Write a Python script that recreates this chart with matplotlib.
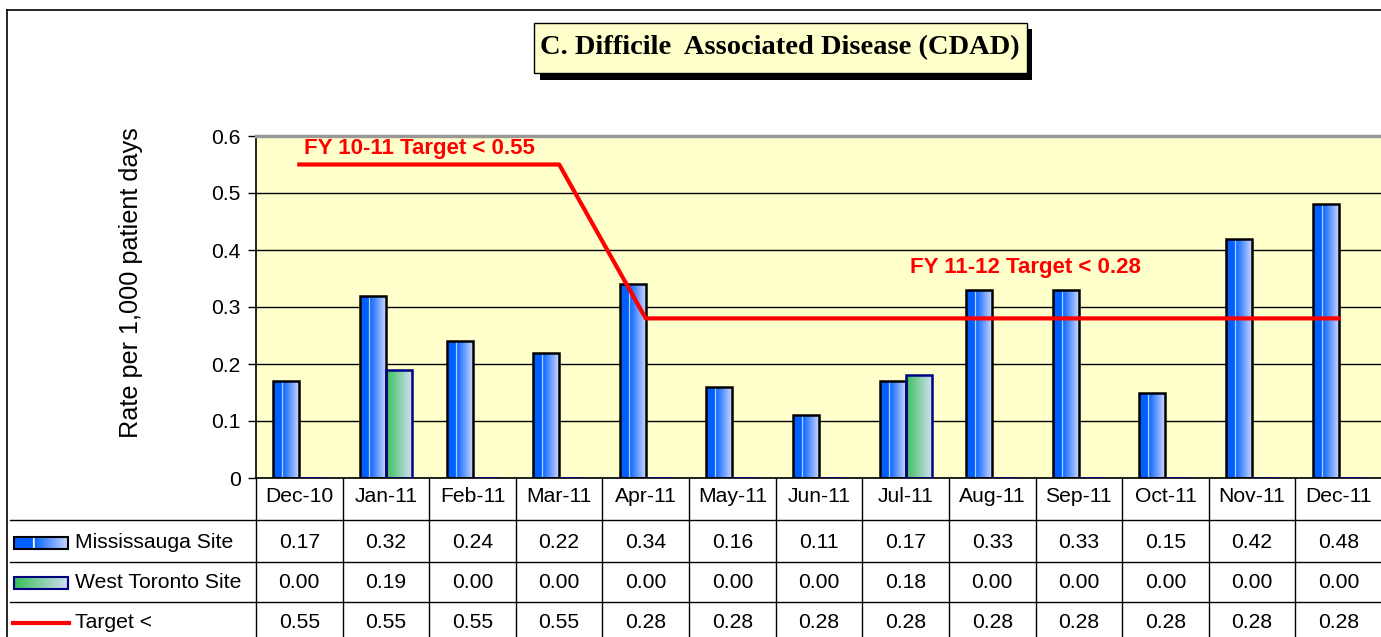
import numpy as np
import matplotlib
matplotlib.use("Agg")
import matplotlib.pyplot as plt
import matplotlib.transforms as mtransforms
from matplotlib.patches import Rectangle
from matplotlib.colors import to_rgb

months = ["Dec-10", "Jan-11", "Feb-11", "Mar-11", "Apr-11", "May-11", "Jun-11",
          "Jul-11", "Aug-11", "Sep-11", "Oct-11", "Nov-11", "Dec-11"]
mississauga = [0.17, 0.32, 0.24, 0.22, 0.34, 0.16, 0.11, 0.17, 0.33, 0.33, 0.15, 0.42, 0.48]
west_toronto = [0.00, 0.19, 0.00, 0.00, 0.00, 0.00, 0.00, 0.18, 0.00, 0.00, 0.00, 0.00, 0.00]
target = [0.55, 0.55, 0.55, 0.55, 0.28, 0.28, 0.28, 0.28, 0.28, 0.28, 0.28, 0.28, 0.28]

plt.rcParams['font.family'] = ['Liberation Sans', 'DejaVu Sans']
FS = 15.2

W, H = 1381, 637
fig = plt.figure(figsize=(W / 100, H / 100), dpi=100)

def fx(px):
    return px / W

def fy(py):
    return 1 - py / H

# plot area
x0, x1, ytop, ybot = 256, 1382, 136, 478
ax = fig.add_axes([fx(x0), fy(ybot), fx(x1) - fx(x0), fy(ytop) - fy(ybot)])
ax.set_facecolor("#FFFFCC")
n = len(months)
x = np.arange(n)
ax.set_xlim(-0.5, n - 0.5)
ax.set_ylim(0, 0.6)
ax.set_yticks(np.arange(0, 0.61, 0.1))
ax.set_yticklabels(["0", "0.1", "0.2", "0.3", "0.4", "0.5", "0.6"], fontsize=FS)
ax.tick_params(axis="y", direction="out", length=6, width=1, color="black", pad=5)
ax.set_xticks([])
ax.grid(axis="y", color="black", linewidth=1)
ax.set_axisbelow(True)
ax.spines["top"].set_color("#999999")
ax.spines["top"].set_linewidth(2.5)
ax.spines["right"].set_visible(False)
ax.spines["left"].set_linewidth(1.2)
ax.spines["bottom"].set_linewidth(1.2)
fig.text(fx(131), fy(283), "Rate per 1,000 patient days", fontsize=18.2,
         rotation=90, ha="center", va="center")

bw = 0.3

def gradient(c_left, c_right, n_px=60, solid=0.0, white_line=False):
    a = np.array(to_rgb(c_left))
    b = np.array(to_rgb(c_right))
    t = np.linspace(0, 1, n_px)
    cols = []
    for v in t:
        if v < solid:
            cols.append(a)
        else:
            s = (v - solid) / (1 - solid)
            cols.append(a * (1 - s) + b * s)
    cols = np.array(cols)
    if white_line:
        k = int(solid * n_px)
        cols[k:k + 2] = [1, 1, 1]
    return cols[np.newaxis, :, :]

g_m = gradient("#0060FF", "#C8D4FF", solid=0.35, white_line=True)
g_w = gradient("#38C058", "#D0DEF2", solid=0.0)

def grad_bars(xs, vals, img, edge):
    bars = ax.bar(xs, vals, width=bw, align="edge", facecolor="none",
                  edgecolor=edge, linewidth=1.8, zorder=3)
    for bar, v in zip(bars, vals):
        if v <= 0:
            continue
        bx, by = bar.get_x(), bar.get_y()
        im = ax.imshow(img, extent=(bx, bx + bar.get_width(), by, by + bar.get_height()),
                       aspect="auto", zorder=2.5, interpolation="bilinear")
        im.set_clip_path(bar)

grad_bars(x - bw, mississauga, g_m, "black")
grad_bars(x, west_toronto, g_w, "#000080")
ax.set_xlim(-0.5, n - 0.5)
ax.set_ylim(0, 0.6)

ax.plot(x, target, color="#FF0000", linewidth=3, zorder=4)
ax.text(0.05, 0.578, "FY 10-11 Target < 0.55", color="#FF0000", fontsize=16,
        fontweight="bold", ha="left", va="center")
ax.text(7.05, 0.369, "FY 11-12 Target < 0.28", color="#FF0000", fontsize=16,
        fontweight="bold", ha="left", va="center")

# outer frame
fig.add_artist(plt.Line2D([fx(7), fx(7)], [fy(10), 0], color="black", lw=1.2))
fig.add_artist(plt.Line2D([fx(7), 1], [fy(10), fy(10)], color="black", lw=1.2))

# title box
fig.add_artist(Rectangle((fx(540), fy(80)), fx(1032) - fx(540), fy(29) - fy(80),
                         transform=fig.transFigure, facecolor="black", edgecolor="none"))
fig.add_artist(Rectangle((fx(534), fy(73)), fx(1027) - fx(534), fy(23) - fy(73),
                         transform=fig.transFigure, facecolor="#FFFFCC",
                         edgecolor="black", lw=1))
fig.text(fx(780), fy(48), "C. Difficile  Associated Disease (CDAD)",
         family="Liberation Serif", fontweight="bold", fontsize=20.5,
         ha="center", va="center")

# data table
tr = mtransforms.blended_transform_factory(ax.transData, fig.transFigure)
row_lines = [520, 562, 602]
for ry in row_lines:
    fig.add_artist(plt.Line2D([fx(10), 1], [fy(ry), fy(ry)], color="black", lw=1))
fig.add_artist(plt.Line2D([fx(256), fx(256)], [fy(478), 0], color="black", lw=1))
for i in range(1, n):
    fig.add_artist(plt.Line2D([i - 0.5, i - 0.5], [fy(478), 0], color="black",
                              lw=1, transform=tr))

row_y = [497, 542, 582, 622]
for i, m in enumerate(months):
    fig.text(i, fy(row_y[0]), m, transform=tr, ha="center", va="center", fontsize=FS)
    fig.text(i, fy(row_y[1]), "%.2f" % mississauga[i], transform=tr, ha="center",
             va="center", fontsize=FS)
    fig.text(i, fy(row_y[2]), "%.2f" % west_toronto[i], transform=tr, ha="center",
             va="center", fontsize=FS)
    fig.text(i, fy(row_y[3]), "%.2f" % target[i], transform=tr, ha="center",
             va="center", fontsize=FS)

# legend keys in table
kax = fig.add_axes([0, 0, 1, 1], facecolor="none")
kax.set_xlim(0, W)
kax.set_ylim(H, 0)
kax.axis("off")
for img, edge, ky in [(g_m, "black", 543), (g_w, "#000080", 583)]:
    r = Rectangle((14, ky - 6), 54, 12, facecolor="none", edgecolor=edge, lw=1.5, zorder=3)
    kax.add_patch(r)
    kax.imshow(img, extent=(14, 68, ky + 6, ky - 6), aspect="auto", zorder=2)
kax.set_xlim(0, W)
kax.set_ylim(H, 0)
kax.plot([13, 69], [623, 623], color="#FF0000", lw=3)
for lbl, ly in [("Mississauga Site", 542), ("West Toronto Site", 582), ("Target <", 622)]:
    kax.text(75, ly, lbl, ha="left", va="center", fontsize=FS)

fig.savefig("out.png", dpi=100)
